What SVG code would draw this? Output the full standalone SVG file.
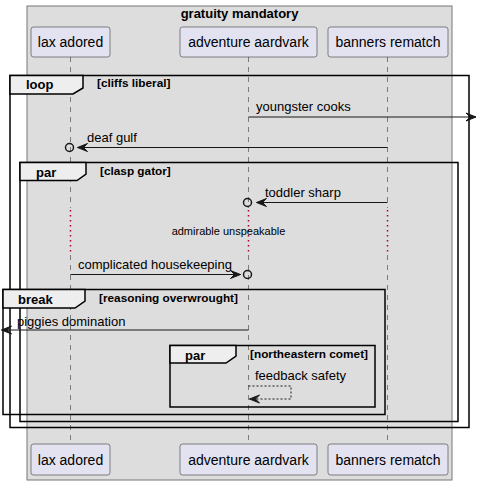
<svg xmlns="http://www.w3.org/2000/svg" width="478" height="485" viewBox="0 0 478 485">
<style>
.box{fill:#DDDDDD;stroke:#777777;stroke-width:1}
.part{fill:#E2E2F0;stroke:#181818;stroke-width:0.5}
.pt{font-family:"Liberation Sans",Arial,sans-serif;font-size:14px;fill:#000;text-anchor:middle}
.life{stroke:#181818;stroke-width:0.5;stroke-dasharray:5,5;fill:none}
.delay{stroke:#B0003A;stroke-width:1.5;stroke-dasharray:1.5,3.5;fill:none}
.frame{fill:none;stroke:#000;stroke-width:1.5}
.tab{fill:#EEEEEE;stroke:#000;stroke-width:1.5}
.fl{font-family:"Liberation Sans",Arial,sans-serif;font-size:13px;font-weight:bold;fill:#000}
.fc{font-family:"Liberation Sans",Arial,sans-serif;font-size:11.8px;font-weight:bold;fill:#000}
.msg{stroke:#181818;stroke-width:1;fill:none}
.dmsg{stroke:#181818;stroke-width:1;fill:none;stroke-dasharray:2,2}
.mt{font-family:"Liberation Sans",Arial,sans-serif;font-size:13px;fill:#000}
.circ{fill:none;stroke:#181818;stroke-width:1.5}
.title{font-family:"Liberation Sans",Arial,sans-serif;font-size:13px;font-weight:bold;fill:#000;text-anchor:middle}
</style>
<defs>
<marker id="ah" markerUnits="userSpaceOnUse" markerWidth="12" markerHeight="10" refX="10" refY="4" orient="auto" overflow="visible">
<path d="M0,0 L10,4 L0,8 L4,4 Z" fill="#181818" stroke="#181818" stroke-width="1"/>
</marker>
</defs>
<g id="box-gratuity">
<rect class="box" x="27" y="6" width="425" height="474"/>
<text class="title" x="239.5" y="18">gratuity mandatory</text>
</g>
<g id="lifelines">
<line class="life" x1="70.5" y1="57" x2="70.5" y2="208"/>
<line class="delay" x1="70.5" y1="210" x2="70.5" y2="253"/>
<line class="life" x1="70.5" y1="255" x2="70.5" y2="444"/>
<line class="life" x1="248.5" y1="57" x2="248.5" y2="208"/>
<line class="delay" x1="248.5" y1="210" x2="248.5" y2="253"/>
<line class="life" x1="248.5" y1="255" x2="248.5" y2="444"/>
<line class="life" x1="387.5" y1="57" x2="387.5" y2="208"/>
<line class="delay" x1="387.5" y1="210" x2="387.5" y2="253"/>
<line class="life" x1="387.5" y1="255" x2="387.5" y2="444"/>
</g>
<g id="p-lax">
<rect class="part" x="31" y="27" width="79" height="30" rx="2.5"/>
<text class="pt" x="70.5" y="47">lax adored</text>
<rect class="part" x="31" y="444" width="79" height="31" rx="2.5"/>
<text class="pt" x="70.5" y="465">lax adored</text>
</g>
<g id="p-adventure">
<rect class="part" x="180" y="27" width="137" height="30" rx="2.5"/>
<text class="pt" x="248.5" y="47">adventure aardvark</text>
<rect class="part" x="180" y="444" width="137" height="31" rx="2.5"/>
<text class="pt" x="248.5" y="465">adventure aardvark</text>
</g>
<g id="p-banners">
<rect class="part" x="328" y="27" width="120" height="30" rx="2.5"/>
<text class="pt" x="388" y="47">banners rematch</text>
<rect class="part" x="328" y="444" width="120" height="31" rx="2.5"/>
<text class="pt" x="388" y="465">banners rematch</text>
</g>
<g id="frame-loop">
<rect class="frame" x="10" y="75.5" width="459" height="352"/>
<polygon class="tab" points="10,75.5 83,75.5 83,88 73,94 10,94"/>
<text class="fl" x="26" y="89">loop</text>
<text class="fc" x="97" y="87">[cliffs liberal]</text>
</g>
<g id="frame-par1">
<rect class="frame" x="20" y="162.5" width="438" height="259"/>
<polygon class="tab" points="20,162.5 86,162.5 86,174 77,180.5 20,180.5"/>
<text class="fl" x="36" y="177">par</text>
<text class="fc" x="100" y="175">[clasp gator]</text>
</g>
<g id="frame-break">
<rect class="frame" x="3" y="289.5" width="382" height="125"/>
<polygon class="tab" points="3,289.5 85,289.5 85,301 75,308 3,308"/>
<text class="fl" x="18" y="304">break</text>
<text class="fc" x="99" y="302">[reasoning overwrought]</text>
</g>
<g id="frame-par2">
<rect class="frame" x="170" y="345.5" width="205" height="61.5"/>
<polygon class="tab" points="170,345.5 236,345.5 236,356 226,363 170,363"/>
<text class="fl" x="185" y="360">par</text>
<text class="fc" x="250" y="358">[northeastern comet]</text>
</g>
<g id="connectors">
<line class="msg" x1="248.5" y1="117" x2="476" y2="117" marker-end="url(#ah)"/>
<text class="mt" x="256" y="111">youngster cooks</text>
<line class="msg" x1="387.5" y1="147.5" x2="77.5" y2="147.5" marker-end="url(#ah)"/>
<circle class="circ" cx="69.5" cy="147.5" r="4"/>
<text class="mt" x="87" y="142">deaf gulf</text>
<line class="msg" x1="387.5" y1="202.5" x2="256.5" y2="202.5" marker-end="url(#ah)"/>
<circle class="circ" cx="247.5" cy="202.5" r="4"/>
<text class="mt" x="265" y="197">toddler sharp</text>
<text class="mt" x="228.5" y="235" style="font-size:11px;text-anchor:middle">admirable unspeakable</text>
<line class="msg" x1="70.5" y1="274.5" x2="240.5" y2="274.5" marker-end="url(#ah)"/>
<circle class="circ" cx="247.5" cy="274.5" r="4"/>
<text class="mt" x="78" y="269">complicated housekeeping</text>
<line class="msg" x1="248.5" y1="330" x2="1.5" y2="330" marker-end="url(#ah)"/>
<text class="mt" x="17" y="326">piggies domination</text>
<polyline class="dmsg" points="248.5,386 291,386 291,399 249.5,399" marker-end="url(#ah)"/>
<text class="mt" x="255" y="380">feedback safety</text>
</g>
</svg>
